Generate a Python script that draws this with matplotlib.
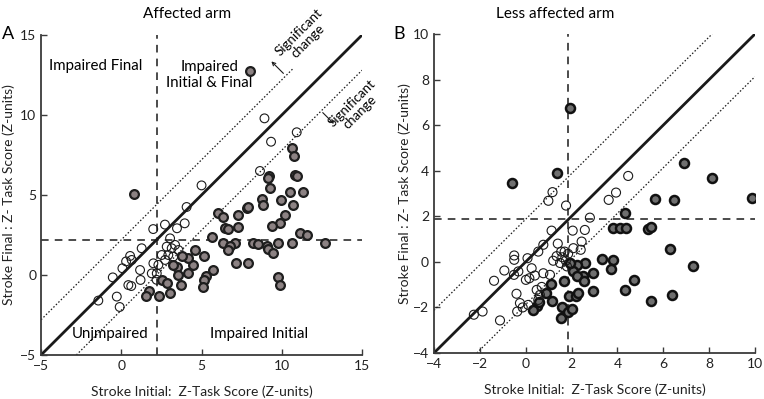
import matplotlib
matplotlib.use("Agg")
import matplotlib.pyplot as plt

plt.rcParams['font.family'] = ['Lato', 'DejaVu Sans']

# ---- Panel A: affected arm ----
a_open_x = [8.92, 10.93, 9.33, 8.64, 5.0, 4.07, 3.95, 2.72, 1.99, 3.47, 3.04, 1.27,
            2.83, 3.14, 3.35, 3.56, 2.52, 2.93, 3.24, 2.73, 2.31, 2.0, 2.21, 1.9,
            0.55, 0.3, 0.65, 0.07, 1.17, -0.53, 1.2, 0.44, 0.62, -0.28, -1.43, -0.1, 2.2]
a_open_y = [9.79, 8.92, 8.33, 6.5, 5.6, 4.25, 3.23, 3.15, 2.87, 2.92, 2.29, 1.67,
            1.77, 1.67, 1.88, 1.56, 1.25, 1.25, 1.15, 0.94, 0.63, 0.73, 0.1, 0.1,
            1.19, 0.85, 0.94, 0.42, 0.31, -0.15, -0.31, -0.63, -0.69, -1.35, -1.6, -2.0, -0.3]

a_fill_x = [8.01, 0.79, 10.66, 10.78, 10.83, 10.93, 9.2, 9.16, 9.27, 8.75, 8.85, 9.95,
            10.51, 11.34, 10.72, 10.2, 9.89, 9.37, 11.14, 11.55, 12.69, 10.62, 9.75, 8.23,
            8.54, 9.06, 9.16, 9.47, 7.82, 7.92, 7.3, 6.05, 6.36, 6.46, 6.67, 7.3, 5.68,
            6.36, 7.09, 6.78, 6.67, 7.13, 7.92, 9.75, 9.89, 5.15, 4.59, 4.44, 4.17, 3.76,
            5.73, 5.27, 5.15, 5.1, 4.17, 3.44, 3.55, 3.69, 3.24, 2.51, 2.82, 3.03, 2.34,
            1.72, 1.51]
a_fill_y = [12.77, 5.06, 7.92, 7.44, 6.25, 6.19, 6.2, 6.04, 5.42, 4.73, 4.38, 4.69,
            5.21, 5.21, 4.38, 3.75, 3.27, 3.06, 2.65, 2.5, 2.02, 2.02, 1.98, 1.98,
            1.94, 1.81, 1.6, 1.35, 4.17, 4.23, 3.75, 3.85, 3.65, 2.92, 2.85, 3.02, 2.4,
            1.98, 1.98, 1.81, 1.56, 0.73, 0.77, -0.1, -0.63, 1.19, 1.56, 0.63, 1.04, 1.21,
            0.31, -0.06, -0.31, -0.73, 0.15, 0.52, 0.0, -0.63, 0.63, -0.31, -0.52, -1.1, -1.31,
            -0.98, -1.29]

# ---- Panel B: less affected arm ----
b_open_x = [4.47, 3.94, 3.62, 1.17, 0.99, 1.76, 2.8, 2.05, 2.58, 1.13, 2.44, 2.4, 2.08,
            1.4, 1.55, 1.7, 1.85, 1.35, 1.6, 1.75, 1.5, 1.8, 1.2, 0.77, 0.55, -0.5, -0.5,
            0.08, 0.26, -0.93, -1.38, -0.51, -0.32, 0.01, 0.16, 0.77, 1.06, -0.4, -0.25,
            -0.13, -0.37, 0.11, -2.26, -1.88, -1.12, 0.48, 0.62, 0.55, 0.7, 0.4]
b_open_y = [3.77, 3.04, 2.72, 3.06, 2.68, 2.47, 1.94, 1.37, 1.4, 1.37, 0.89, 0.53, 0.6,
            0.8, 0.45, 0.45, 0.35, 0.25, 0.2, 0.05, -0.05, -0.2, 0.05, 0.75, 0.45, 0.28, 0.09,
            0.16, -0.28, -0.38, -0.83, -0.57, -0.42, -0.79, -0.72, -0.5, -0.57, -1.4, -1.81,
            -2.0, -2.18, -1.89, -2.32, -2.18, -2.57, -1.23, -1.45, -1.67, -1.1, -0.6]

b_fill_x = [1.93, -0.61, 1.38, 6.92, 8.14, 9.85, 5.64, 6.47, 4.33, 3.82, 4.11, 4.36,
            5.32, 5.46, 6.29, 7.31, 3.31, 3.79, 3.7, 4.74, 4.33, 5.45, 6.36, 2.95, 2.95,
            2.58, 2.51, 2.22, 2.08, 1.95, 2.25, 2.55, 1.67, 1.1, 0.88, 1.13, 0.48, 0.33,
            1.57, 1.52, 1.86, 2.03, 1.9, 2.19, 2.29, 0.6]
b_fill_y = [6.77, 3.45, 3.89, 4.36, 3.7, 2.82, 2.75, 2.72, 2.13, 1.48, 1.48, 1.5,
            1.43, 1.55, 0.57, -0.18, 0.13, 0.09, -0.32, -0.79, -1.23, -1.74, -1.45, -1.26, -0.5,
            -0.06, -0.64, -0.13, -0.42, -0.05, -0.6, -0.85, -0.82, -0.96, -1.35, -1.74, -1.93, -2.13,
            -1.96, -2.47, -2.18, -2.08, -1.52, -1.52, -1.35, -1.75]

a_lim, a_cut, a_sig = (-5, 15), 2.2, 2.2
b_lim, b_cut, b_sig = (-4, 10), 1.86, 1.87

fig = plt.figure(figsize=(7.64, 3.99), dpi=100)
ax_a = fig.add_axes([0.0537, 0.1103, 0.4202, 0.802])
ax_b = fig.add_axes([0.568, 0.1153, 0.4202, 0.7995])


def style_axes(ax, lim, step):
    ax.set_xlim(*lim)
    ax.set_ylim(*lim)
    for s in ('top', 'right'):
        ax.spines[s].set_visible(False)
    for s in ('left', 'bottom'):
        ax.spines[s].set_color('#3a3a3a')
        ax.spines[s].set_linewidth(1.3)
    ticks = list(range(lim[0], lim[1] + 1, step))
    ax.set_xticks(ticks)
    ax.set_yticks(ticks)
    ax.tick_params(direction='in', length=4, width=1, color='#3a3a3a',
                   labelsize=10, labelcolor='#222222')
    ax.set_xlabel('Stroke Initial:  Z-Task Score (Z-units)', fontsize=10, color='#222222')
    ax.set_ylabel('Stroke Final : Z- Task Score (Z-units)', fontsize=10, color='#222222')


def guide_lines(ax, lim, cut, sig, upper_end):
    lo, hi = lim
    ax.plot([lo, hi], [lo, hi], color='#1a1a1a', lw=2.0, zorder=2)
    ax.plot([lo, upper_end], [lo + sig, upper_end + sig], color='#1a1a1a', lw=0.9,
            ls=(0, (1.2, 1.6)), zorder=2)
    ax.plot([lo + sig, hi], [lo, hi - sig], color='#1a1a1a', lw=0.9,
            ls=(0, (1.2, 1.6)), zorder=2)
    ax.axvline(cut, color='#1a1a1a', lw=1.1, ls=(0, (5, 4)), zorder=2)
    ax.axhline(cut, color='#1a1a1a', lw=1.1, ls=(0, (5, 4)), zorder=2)


# Panel A
style_axes(ax_a, a_lim, 5)
guide_lines(ax_a, a_lim, a_cut, a_sig, 10.7)
ax_a.scatter(a_open_x, a_open_y, s=40, facecolors='none', edgecolors='#1a1a1a',
             linewidths=0.8, zorder=3)
ax_a.scatter(a_fill_x, a_fill_y, s=40, facecolors='#8c8283', edgecolors='#1e1e1e',
             linewidths=1.6, zorder=4)
ax_a.text(-1.6, 13.05, 'Impaired Final', ha='center', va='center', fontsize=10.8)
ax_a.text(5.5, 12.5, 'Impaired\nInitial & Final', ha='center', va='center', fontsize=10.8,
          linespacing=1.1)
ax_a.text(-0.7, -3.7, 'Unjmpaired', ha='center', va='center', fontsize=10.8)
ax_a.text(8.6, -3.7, 'Impaired Initial', ha='center', va='center', fontsize=10.8)
ax_a.text(11.35, 14.9, 'Significant\nchange', rotation=45, ha='center', va='center',
          fontsize=9.5, linespacing=1.0, clip_on=False)
ax_a.text(14.6, 10.45, 'Significant\nchange', rotation=45, ha='center', va='center',
          fontsize=9.5, linespacing=1.0, clip_on=False)
ax_a.annotate('', xy=(9.35, 13.35), xytext=(10.1, 12.6),
              arrowprops=dict(arrowstyle='->', lw=0.8, color='#1a1a1a',
                              shrinkA=0, shrinkB=0, mutation_scale=6))
ax_a.annotate('', xy=(13.25, 9.45), xytext=(12.55, 10.15),
              arrowprops=dict(arrowstyle='->', lw=0.8, color='#1a1a1a',
                              shrinkA=0, shrinkB=0, mutation_scale=6))
ax_a.yaxis.set_label_coords(-0.082, 0.5)
ax_a.xaxis.set_label_coords(0.5, -0.095)

# Panel B
style_axes(ax_b, b_lim, 2)
guide_lines(ax_b, b_lim, b_cut, b_sig, b_lim[1] - b_sig)
ax_b.scatter(b_fill_x, b_fill_y, s=42, facecolors='#6f6f6f', edgecolors='#111111',
             linewidths=1.8, zorder=3)
ax_b.scatter(b_open_x, b_open_y, s=42, facecolors='none', edgecolors='#1a1a1a',
             linewidths=0.8, zorder=4)
ax_b.yaxis.set_label_coords(-0.072, 0.5)
ax_b.xaxis.set_label_coords(0.5, -0.095)

fig.text(0.245, 0.965, 'Affected arm', ha='center', va='center', fontsize=11)
fig.text(0.727, 0.965, 'Less affected arm', ha='center', va='center', fontsize=11)
fig.text(0.011, 0.915, 'A', ha='center', va='center', fontsize=13)
fig.text(0.523, 0.915, 'B', ha='center', va='center', fontsize=13)

fig.savefig('out.png', dpi=100)
